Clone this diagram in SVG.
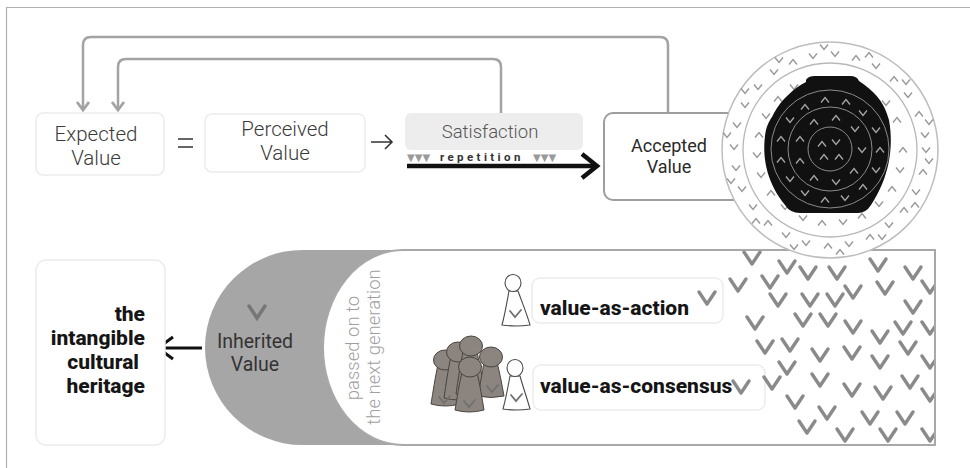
<svg xmlns="http://www.w3.org/2000/svg" xmlns:xlink="http://www.w3.org/1999/xlink" width="970" height="468" viewBox="0 0 970 468">
  <style>
    .lbl { font-family: Roboto, "Liberation Sans", sans-serif; font-weight: 300; font-size: 20.5px; fill: #3a3a3a; text-anchor: middle; }
    .reg { font-family: Roboto, "Liberation Sans", sans-serif; font-weight: 400; font-size: 18px; fill: #2a2a2a; text-anchor: middle; }
    .bold { font-family: Roboto, "Liberation Sans", sans-serif; font-weight: 800; font-size: 21px; fill: #151515; }
    .rot { font-family: Roboto, "Liberation Sans", sans-serif; font-weight: 300; font-size: 18.5px; fill: #a0a0a0; text-anchor: middle; }
    .box { fill: #ffffff; stroke: #ececec; stroke-width: 1.5; }
    .fb { fill: none; stroke: #a3a3a3; stroke-width: 2.5; }
    .blk { fill: none; stroke: #111111; stroke-linecap: butt; stroke-linejoin: miter; }
    .ring { fill: none; stroke: #b8b8b8; stroke-width: 1.3; }
    .inring { fill: none; stroke: #8a8a8a; stroke-width: 1; }
    .cg use { stroke: #979797; stroke-width: 1.4; fill: none; }
    .cl use { stroke: #a8a8a8; stroke-width: 1.3; fill: none; }
    .chk use { stroke: #8a8a8a; stroke-width: 3.4; fill: none; stroke-linecap: round; stroke-linejoin: round; }
    .pers-o { fill: #ffffff; stroke: #4a4a4a; stroke-width: 1.1; }
    .pers-g { fill: #8b847f; stroke: #4a4540; stroke-width: 1; }
    .pchk { fill: none; stroke: #707070; stroke-width: 1.8; stroke-linecap: round; }
  </style>
  <defs>
    <!-- small chevrons used in the rings -->
    <path id="dn" d="M-4 -2.5 L0 2.5 L4 -2.5"/>
    <path id="up" d="M-4 2.5 L0 -2.5 L4 2.5"/>
    <!-- large check mark -->
    <path id="ck" d="M-8 -6 L0 6 L8 -6"/>
    <marker id="fbHead" viewBox="-10 -8 12 16" markerWidth="12" markerHeight="16" refX="0" refY="0" orient="auto" markerUnits="userSpaceOnUse">
      <path d="M-8 -6 L0 0 L-8 6" fill="none" stroke="#a3a3a3" stroke-width="2.8"/>
    </marker>
    <clipPath id="fieldClip">
      <rect x="400" y="251" width="534" height="193"/>
    </clipPath>
  </defs>

  <!-- frame -->
  <path d="M6.5 468 V7.5 H970" fill="none" stroke="#b0b0b0" stroke-width="1.2"/>

  <!-- feedback loops -->
  <g id="connectors">
    <path class="fb" d="M668 113 V45 Q668 37 660 37 H91 Q83 37 83 45 V110" marker-end="url(#fbHead)"/>
    <path class="fb" d="M501 113 V67 Q501 59 493 59 H126 Q118 59 118 67 V110" marker-end="url(#fbHead)"/>
    <!-- equals and arrow signs -->
    <path d="M178 139 H193 M178 147 H193" stroke="#333" stroke-width="1.6" fill="none"/>
    <path d="M371 142 H392 M385 135 L392 142 L385 149" stroke="#333" stroke-width="1.6" fill="none"/>
    <!-- repetition arrow -->
    <path class="blk" d="M407 166 H595" stroke-width="4.5"/>
    <path class="blk" d="M582 154 L597 166 L582 178" stroke-width="4.5"/>
    <!-- to heritage -->
    <path class="blk" d="M202 348 H160" stroke-width="3"/>
    <path class="blk" d="M173 337 L158 348 L173 359" stroke-width="3"/>
  </g>

  <!-- top row -->
  <g id="expected">
    <rect class="box" x="36" y="113" width="128" height="62" rx="7"/>
    <text class="lbl" x="96" y="141">Expected</text>
    <text class="lbl" x="96" y="165">Value</text>
  </g>
  <g id="perceived">
    <rect class="box" x="205" y="114" width="160" height="58" rx="7"/>
    <text class="lbl" x="285" y="136">Perceived</text>
    <text class="lbl" x="285" y="160">Value</text>
  </g>
  <g id="satisfaction">
    <rect x="405" y="113" width="178" height="37" rx="6" fill="#ededed"/>
    <text class="lbl" x="490" y="138" style="fill:#555;font-size:18.5px">Satisfaction</text>
  </g>
  <g id="repetition">
    <text x="407" y="161" font-family="DejaVu Sans, sans-serif" font-size="10" fill="#9a9a9a">▼▼▼</text>
    <text x="440" y="161" font-family="Roboto, 'Liberation Sans', sans-serif" font-size="11.5" font-weight="700" fill="#333" letter-spacing="3.4">repetition</text>
    <text x="533" y="161" font-family="DejaVu Sans, sans-serif" font-size="10" fill="#9a9a9a">▼▼▼</text>
  </g>
  <g id="accepted">
    <rect x="604" y="113" width="160" height="87" rx="9" fill="#ffffff" stroke="#9e9e9e" stroke-width="2"/>
    <text class="reg" x="669" y="152">Accepted</text>
    <text class="reg" x="669" y="173">Value</text>
  </g>

  <!-- bottom: inherited value band -->
  <g id="inherited">
    <path d="M302.5 250 H420 V445 H302.5 A97.5 97.5 0 0 1 302.5 250 Z" fill="#a6a6a6"/>
    <use href="#ck" x="257" y="312" stroke="#777" stroke-width="3.5" fill="none" stroke-linecap="round"/>
    <text class="reg" x="255" y="348" style="fill:#333;font-size:19.5px">Inherited</text>
    <text class="reg" x="255" y="371" style="fill:#333;font-size:19.5px">Value</text>
  </g>

  <g id="generation">
    <path d="M403 250 H935 V445 H403 A80 97.5 0 0 1 403 250 Z" fill="#ffffff" stroke="#a8a8a8" stroke-width="2"/>
    <text class="rot" transform="translate(359 348) rotate(-90)">passed on to</text>
    <text class="rot" transform="translate(380 347) rotate(-90)">the next generation</text>
  </g>

  <g id="value-as-action">
    <rect class="box" x="532" y="278" width="191" height="45" rx="8"/>
    <text class="bold" x="540" y="315">value-as-action</text>
  </g>
  <g id="value-as-consensus">
    <rect class="box" x="533" y="365" width="232" height="45" rx="8"/>
    <text class="bold" x="540" y="393">value-as-consensus</text>
  </g>

  <!-- figures -->
  <g id="people">
    <!-- single figure (action) -->
    <path class="pers-o" d="M509 291 C507 302 505 314 502 325 Q516 327 530 325 C527 314 522 302 518 291 Z"/>
    <ellipse class="pers-o" cx="513" cy="283" rx="8" ry="8.5"/>
    <path class="pchk" d="M510 311 L515 317 L521 310"/>
    <!-- group (consensus) -->
    <path class="pers-g" d="M438 364 C435 378 433 392 431 404 Q445 408 460 404 C457 392 455 378 452 364 Z"/>
    <ellipse class="pers-g" cx="445" cy="360" rx="11.5" ry="10"/>
    <path class="pers-g" d="M451 356 C448 370 446 384 444 398 Q459 402 474 398 C471 384 468 370 465 356 Z"/>
    <ellipse class="pers-g" cx="458" cy="352" rx="11.5" ry="10"/>
    <path class="pers-g" d="M463 352 C460 366 458 380 456 394 Q471 398 486 394 C483 380 480 366 477 352 Z"/>
    <ellipse class="pers-g" cx="471" cy="346" rx="11.5" ry="10"/>
    <path class="pers-g" d="M484 362 C482 374 480 385 478 396 Q491 399 504 396 C502 385 500 374 497 362 Z"/>
    <ellipse class="pers-g" cx="491" cy="357" rx="11.5" ry="10"/>
    <path class="pers-g" d="M462 372 C459 385 457 398 455 410 Q469 414 484 410 C482 398 480 385 477 372 Z"/>
    <ellipse class="pers-g" cx="470" cy="367" rx="11.5" ry="10"/>
    <path class="pchk" d="M439 397 L444 403 L450 396"/>
    <path class="pchk" d="M464 401 L469 407 L475 400"/>
    <path class="pchk" d="M487 386 L492 392 L498 385"/>
    <!-- single figure beside group -->
    <path class="pers-o" d="M510 376 C508 387 506 398 503 409 Q516 411 530 409 C527 398 523 387 520 376 Z"/>
    <ellipse class="pers-o" cx="515" cy="368" rx="8" ry="8.5"/>
    <path class="pchk" d="M511 395 L516 401 L522 394"/>
  </g>

  <!-- check field -->
  <g id="check-field" class="chk" clip-path="url(#fieldClip)">
    <use href="#ck" x="752" y="258"/><use href="#ck" x="738" y="285"/><use href="#ck" x="787" y="267"/>
    <use href="#ck" x="808" y="273"/><use href="#ck" x="837" y="273"/><use href="#ck" x="878" y="265"/>
    <use href="#ck" x="913" y="273"/><use href="#ck" x="930" y="287"/><use href="#ck" x="770" y="282"/>
    <use href="#ck" x="778" y="300"/><use href="#ck" x="810" y="300"/><use href="#ck" x="835" y="300"/>
    <use href="#ck" x="853" y="292"/><use href="#ck" x="885" y="288"/><use href="#ck" x="913" y="307"/>
    <use href="#ck" x="755" y="323"/><use href="#ck" x="803" y="320"/><use href="#ck" x="828" y="320"/>
    <use href="#ck" x="853" y="327"/><use href="#ck" x="880" y="337"/><use href="#ck" x="903" y="328"/>
    <use href="#ck" x="930" y="328"/><use href="#ck" x="765" y="347"/><use href="#ck" x="790" y="345"/>
    <use href="#ck" x="820" y="355"/><use href="#ck" x="852" y="353"/><use href="#ck" x="880" y="362"/>
    <use href="#ck" x="908" y="348"/><use href="#ck" x="930" y="362"/><use href="#ck" x="787" y="368"/>
    <use href="#ck" x="772" y="383"/><use href="#ck" x="820" y="380"/><use href="#ck" x="852" y="390"/>
    <use href="#ck" x="883" y="393"/><use href="#ck" x="910" y="382"/><use href="#ck" x="930" y="395"/>
    <use href="#ck" x="795" y="402"/><use href="#ck" x="827" y="413"/><use href="#ck" x="870" y="418"/>
    <use href="#ck" x="905" y="418"/><use href="#ck" x="807" y="427"/><use href="#ck" x="845" y="435"/>
    <use href="#ck" x="888" y="435"/><use href="#ck" x="930" y="435"/>
    <use href="#ck" x="707" y="298"/><use href="#ck" x="741" y="387"/>
  </g>

  <!-- concentric value circle -->
  <g id="value-circle">
    <circle cx="830" cy="150" r="108" fill="#ffffff" stroke="#bdbdbd" stroke-width="1.5"/>
    <circle class="ring" cx="830" cy="150" r="87"/>
    <g class="cg">
      <!-- outer band, inner row -->
      <use href="#dn" x="926" y="150"/><use href="#up" x="923" y="172"/><use href="#dn" x="916" y="192"/>
      <use href="#up" x="904" y="210"/><use href="#dn" x="889" y="225"/><use href="#up" x="870" y="237"/>
      <use href="#dn" x="849" y="244"/><use href="#up" x="828" y="246"/><use href="#dn" x="806" y="243"/>
      <use href="#dn" x="786" y="235"/><use href="#up" x="768" y="223"/><use href="#dn" x="753" y="207"/>
      <use href="#dn" x="742" y="189"/><use href="#dn" x="736" y="168"/><use href="#dn" x="734" y="147"/>
      <use href="#dn" x="737" y="125"/><use href="#dn" x="745" y="105"/><use href="#dn" x="758" y="87"/>
      <use href="#dn" x="774" y="72"/><use href="#up" x="793" y="62"/><use href="#dn" x="813" y="56"/>
      <use href="#dn" x="835" y="54"/><use href="#up" x="856" y="58"/><use href="#dn" x="876" y="66"/>
      <use href="#up" x="894" y="79"/><use href="#dn" x="908" y="95"/><use href="#up" x="919" y="114"/>
      <use href="#dn" x="925" y="135"/>
      <!-- outer band, outer row -->
      <use href="#dn" x="929" y="161"/><use href="#up" x="915" y="205"/><use href="#dn" x="882" y="237"/>
      <use href="#up" x="840" y="252"/><use href="#dn" x="794" y="247"/><use href="#up" x="756" y="221"/>
      <use href="#dn" x="731" y="181"/><use href="#dn" x="727" y="135"/><use href="#dn" x="745" y="91"/>
      <use href="#dn" x="779" y="60"/><use href="#dn" x="824" y="47"/><use href="#up" x="869" y="55"/>
      <use href="#dn" x="906" y="82"/><use href="#dn" x="929" y="122"/>
      <!-- middle band -->
      <use href="#up" x="903" y="150"/><use href="#dn" x="900" y="170"/><use href="#up" x="892" y="189"/>
      <use href="#dn" x="879" y="204"/><use href="#up" x="862" y="216"/><use href="#dn" x="843" y="222"/>
      <use href="#up" x="822" y="223"/><use href="#dn" x="803" y="218"/><use href="#dn" x="785" y="207"/>
      <use href="#up" x="771" y="193"/><use href="#dn" x="761" y="175"/><use href="#dn" x="757" y="155"/>
      <use href="#up" x="759" y="135"/><use href="#dn" x="766" y="116"/><use href="#up" x="778" y="99"/>
      <use href="#dn" x="794" y="87"/><use href="#dn" x="886" y="103"/><use href="#up" x="897" y="120"/>
    </g>
    <!-- dark core -->
    <path d="M806 80 Q808 76 815 76 L850 76 Q857 76 859 81 C873 90 883 101 887 114 L889 120 C894 148 889 178 871 205 Q866 213 858 213 L800 213 Q790 213 785 205 C768 184 762 160 765 136 C766 127 769 121 772 117 L774 113 C781 100 794 88 806 82 Z" fill="#111111"/>
    <circle class="inring" cx="830" cy="149" r="59"/>
    <circle class="inring" cx="830" cy="149" r="42"/>
    <circle class="inring" cx="830" cy="149" r="22"/>
    <g class="cl">
      <use href="#up" x="880" y="150"/><use href="#dn" x="876" y="170"/><use href="#up" x="863" y="187"/>
      <use href="#dn" x="845" y="198"/><use href="#up" x="825" y="200"/><use href="#dn" x="805" y="193"/>
      <use href="#dn" x="790" y="179"/><use href="#up" x="781" y="160"/><use href="#up" x="781" y="139"/>
      <use href="#dn" x="790" y="120"/><use href="#up" x="805" y="107"/><use href="#up" x="825" y="100"/>
      <use href="#up" x="846" y="102"/><use href="#dn" x="863" y="113"/><use href="#dn" x="876" y="130"/>
      <use href="#dn" x="862" y="150"/><use href="#up" x="854" y="171"/><use href="#dn" x="836" y="182"/>
      <use href="#up" x="814" y="178"/><use href="#up" x="800" y="161"/><use href="#up" x="800" y="139"/>
      <use href="#up" x="814" y="122"/><use href="#up" x="836" y="118"/><use href="#dn" x="855" y="129"/>
      <use href="#up" x="822" y="144"/><use href="#dn" x="836" y="142"/><use href="#up" x="824" y="157"/>
      <use href="#up" x="839" y="157"/>
    </g>
  </g>

  <g id="heritage">
    <rect class="box" x="36" y="260" width="129" height="185" rx="10"/>
    <text class="bold" x="145" y="321" text-anchor="end">the</text>
    <text class="bold" x="145" y="345" text-anchor="end">intangible</text>
    <text class="bold" x="139" y="369" text-anchor="end">cultural</text>
    <text class="bold" x="145" y="393" text-anchor="end">heritage</text>
  </g>
</svg>
